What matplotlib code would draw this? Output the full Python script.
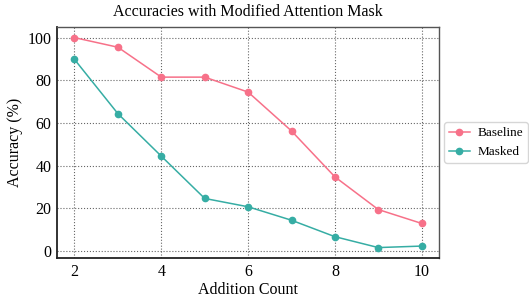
import matplotlib
matplotlib.use("Agg")
import matplotlib.pyplot as plt
import seaborn as sns

# dane
liczba_dodawan = [2, 3, 4, 5, 6, 7, 8, 9, 10]
baseline = [100, 95.5, 81.5, 81.5, 74.5, 56.3, 34.8, 19.5, 13.0]
masked = [89.8, 64.4, 44.5, 24.7, 20.8, 14.5, 6.8, 1.7, 2.4]

plt.rcParams["font.family"] = ["Liberation Serif", "DejaVu Serif"]
kolory = sns.color_palette("husl", 2)

fig = plt.figure(figsize=(5.29, 2.98), dpi=100)
ax = fig.add_axes([0.108, 0.134, 0.722, 0.775])

ax.plot(liczba_dodawan, baseline, marker="o", markersize=4.5, linewidth=1.1,
        color=kolory[0], label="Baseline")
ax.plot(liczba_dodawan, masked, marker="o", markersize=4.5, linewidth=1.1,
        color=kolory[1], label="Masked")

ax.set_title("Accuracies with Modified Attention Mask", fontsize=11.5, pad=8)
ax.set_xlabel("Addition Count", fontsize=11.5, labelpad=2)
ax.set_ylabel("Accuracy (%)", fontsize=11.5, labelpad=3)
ax.set_xticks([2, 4, 6, 8, 10])
ax.set_yticks([0, 20, 40, 60, 80, 100])
ax.tick_params(labelsize=11.5, length=0, pad=4)

ax.grid(True, linestyle=":", color="black", alpha=0.6, linewidth=0.8)
for s in ["left", "bottom"]:
    ax.spines[s].set_linewidth(1.3)
    ax.spines[s].set_color("#222222")
for s in ["top", "right"]:
    ax.spines[s].set_linewidth(1.0)
    ax.spines[s].set_color("#555555")

ax.legend(loc="center left", bbox_to_anchor=(1.013, 0.5), fontsize=9.5,
          handlelength=1.6, handletextpad=0.6, borderpad=0.35,
          borderaxespad=0)

fig.savefig("out.png", dpi=100)
